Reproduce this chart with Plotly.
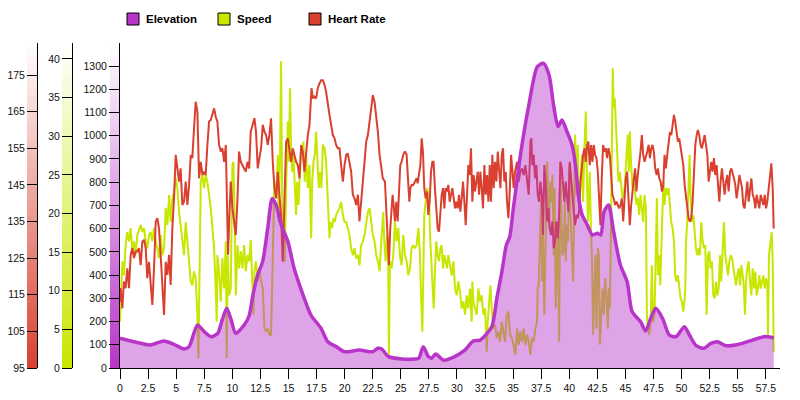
import plotly.graph_objects as go

# ---------------- data ----------------
elev_km = [0.0, 1.25, 2.7, 3.9, 4.8, 5.7, 6.15, 6.9, 7.5, 8.1, 8.7, 9.1, 9.5, 9.9, 10.3,
           11.05, 11.5, 11.8, 12.25, 12.7, 13.15, 13.55, 13.9, 14.35, 14.95, 15.5, 16.3,
           17.0, 17.9, 18.5, 19.25, 20.0, 21.3, 22.5, 22.95, 23.3, 23.9, 25.1, 26.25,
           26.6, 27.0, 27.45, 27.75, 28.1, 28.8, 29.8, 30.7, 31.45, 32.05, 33.1, 33.55,
           34.0, 34.4, 34.7, 35.0, 35.3, 35.65, 36.4, 37.15, 37.7, 38.2, 38.6, 39.0,
           39.35, 39.8, 40.25, 40.55, 40.85, 41.15, 41.6, 42.05, 42.5, 42.8, 43.1, 43.5,
           43.95, 44.55, 45.15, 45.6, 46.35, 46.8, 47.25, 47.7, 48.3, 48.9, 49.5, 50.25,
           50.7, 51.3, 52.0, 52.6, 53.2, 53.95, 55.1, 56.3, 57.35, 58.2]
elev_m = [128, 113, 99, 116, 102, 82, 92, 185, 156, 135, 149, 207, 257, 207, 149,
          185, 225, 305, 400, 458, 601, 730, 702, 616, 544, 429, 314,
          228, 171, 113, 92, 70, 77, 70, 85, 82, 49, 39, 39,
          42, 92, 49, 42, 60, 34, 49, 77, 116, 120, 178, 300,
          415, 530, 565, 680, 790, 917, 1132, 1297, 1312, 1261, 1132, 1039,
          1068, 1017, 960, 874, 730, 659, 616, 573, 580, 573, 673, 702,
          587, 443, 372, 242, 199, 159, 214, 257, 214, 142, 135, 178,
          142, 96, 85, 106, 113, 96, 102, 120, 135, 130]

speed_km = [0.0, 0.21, 0.35, 0.50, 0.65, 0.80, 0.95, 1.10, 1.25, 1.39, 1.54, 1.84, 1.99, 2.14,
            2.29, 2.43, 2.58, 2.73, 2.88, 3.03, 3.18, 3.33, 3.47, 3.62, 3.77, 3.92, 4.07,
            4.22, 4.37, 4.51, 4.66, 4.81, 4.96, 5.11, 5.26, 5.40, 5.55, 5.70, 5.85, 6.00,
            6.15, 6.30, 6.44, 6.59, 6.74, 6.89, 6.98, 7.07, 7.19, 7.34, 7.48, 7.63, 7.78,
            7.93, 8.08, 8.23, 8.38, 8.52, 8.61, 8.67, 8.82, 8.97, 9.12, 9.27, 9.42, 9.50,
            9.59, 9.71, 9.86, 10.01, 10.10, 10.22, 10.31, 10.46, 10.60, 10.75, 10.90, 11.05,
            11.20, 11.35, 11.50, 11.64,
            11.76, 11.88, 11.97, 12.11, 12.26, 12.41, 12.56, 12.71, 12.86, 13.01, 13.15,
            13.30, 13.45, 13.54, 13.66, 13.75, 13.90, 14.05, 14.13, 14.25, 14.34, 14.43,
            14.49, 14.58, 14.67, 14.79, 14.94, 15.03, 15.14, 15.23, 15.32, 15.44, 15.56,
            15.68, 15.77, 15.89, 15.98, 16.13, 16.21, 16.33, 16.45, 16.57, 16.72, 16.87,
            17.02, 17.11, 17.23, 17.34, 17.46, 17.58, 17.70, 17.82, 17.94, 18.06, 18.21,
            18.35, 18.50, 18.65, 18.74, 18.89, 19.01, 19.13, 19.24, 19.39, 19.54, 19.69,
            19.84, 19.99, 20.14, 20.28, 20.43, 20.58, 20.73, 20.88, 21.03, 21.18, 21.32,
            21.47, 21.62, 21.77, 21.92, 22.07, 22.22, 22.36, 22.51, 22.66, 22.81, 22.96,
            23.11, 23.26,
            23.44, 23.53, 23.65, 23.77, 23.88, 23.94, 24.03, 24.18, 24.33, 24.48, 24.63,
            24.78, 24.92, 25.07, 25.22, 25.37, 25.52, 25.67, 25.82, 25.96, 26.11, 26.26,
            26.41, 26.56, 26.71, 26.80, 26.92, 27.00, 27.09, 27.21, 27.33, 27.45, 27.54,
            27.63, 27.75, 27.84, 27.93, 28.04, 28.16, 28.28, 28.40, 28.52, 28.64, 28.76,
            28.88, 28.99, 29.11, 29.23, 29.38, 29.53, 29.68, 29.83, 29.97, 30.12, 30.27,
            30.42, 30.57, 30.72, 30.87, 31.01, 31.16, 31.31, 31.37, 31.46, 31.61, 31.76,
            31.91, 32.05, 32.20, 32.35, 32.50, 32.65, 32.74, 32.86, 32.98, 33.09, 33.24,
            33.39, 33.54, 33.69, 33.84, 33.99, 34.13, 34.28, 34.43, 34.58, 34.73, 34.88,
            35.03,
            35.20, 35.35, 35.50, 35.64, 35.79, 35.94, 36.09, 36.24, 36.39, 36.54, 36.68,
            36.83, 36.98, 37.13, 37.19, 37.28, 37.37, 37.49, 37.58, 37.66, 37.78, 37.87,
            37.96, 38.02, 38.11, 38.20, 38.32, 38.41, 38.50, 38.62, 38.70, 38.79, 38.91,
            39.00, 39.09, 39.21, 39.30, 39.39, 39.51, 39.60, 39.68, 39.80, 39.89, 39.98,
            40.10, 40.22, 40.34, 40.40, 40.52, 40.64, 40.75, 40.87, 40.99, 41.11, 41.23,
            41.35, 41.47, 41.53, 41.65, 41.73, 41.82, 41.94, 42.03, 42.12, 42.21, 42.33,
            42.42, 42.54, 42.63, 42.72, 42.83, 42.95, 43.07, 43.19, 43.31, 43.43, 43.52,
            43.61, 43.70, 43.79, 43.87, 43.96, 44.05, 44.14, 44.26, 44.38, 44.50, 44.62,
            44.74, 44.85, 44.97, 45.09, 45.21, 45.30, 45.39, 45.51, 45.63, 45.75, 45.86,
            45.98, 46.10, 46.22, 46.34, 46.46, 46.58, 46.70, 46.82,
            46.91, 47.00, 47.12, 47.24, 47.35, 47.47, 47.59, 47.71, 47.80, 47.89, 48.01,
            48.10, 48.19, 48.31, 48.39, 48.48, 48.60, 48.72, 48.84, 48.96, 49.08, 49.20,
            49.32, 49.43, 49.55, 49.67, 49.79, 49.91, 50.03, 50.15, 50.27, 50.33, 50.39,
            50.50, 50.62, 50.71, 50.80, 50.92, 51.04, 51.16, 51.28, 51.40, 51.51, 51.63,
            51.75, 51.87, 51.99, 52.11, 52.23, 52.35, 52.46, 52.58, 52.70, 52.82, 52.94,
            53.06, 53.18, 53.30, 53.42, 53.53, 53.65, 53.77, 53.89, 54.01, 54.13, 54.25,
            54.37, 54.49, 54.60, 54.72, 54.84, 54.96, 55.08, 55.20, 55.32, 55.44, 55.55,
            55.64, 55.73, 55.85, 55.97, 56.09, 56.21, 56.33, 56.45, 56.57, 56.68, 56.80,
            56.92, 57.04, 57.16, 57.28, 57.40, 57.52, 57.63, 57.69, 57.78, 57.90, 58.02,
            58.11, 58.20]
speed_kmh = [6.0, 13.8, 12.0, 15.9, 17.6, 16.4, 18.1, 15.1, 16.4, 14.6, 17.2, 18.5, 17.6, 18.1,
             16.4, 15.5, 17.2, 17.6, 16.4, 18.1, 16.4, 15.5, 14.2, 17.2, 14.6, 15.5, 20.7,
             18.5, 22.4, 18.9, 22.0, 22.8, 24.6, 23.3, 20.2, 18.1, 15.9, 14.6, 18.9, 16.4,
             13.3, 11.2, 10.7, 12.5, 11.6, 6.9, 1.25, 13.8, 24.1, 25.0, 23.3, 25.0, 24.1,
             22.4, 20.7, 18.1, 15.5, 10.3, 6.0, 14.6, 12.5, 8.6, 14.2, 10.3, 16.4, 1.25,
             14.6, 9.4, 10.3, 26.3, 26.7, 18.1, 9.4, 15.9, 12.9, 15.1, 12.9, 15.9,
             12.5, 14.6, 13.8, 16.6,
             10.3, 6.9, 12.5, 13.8, 11.2, 12.9, 11.2, 10.3, 5.1, 4.7, 5.1,
             4.3, 4.3, 10.3, 22.4, 24.1, 22.0, 27.6, 18.9, 27.6, 39.7, 27.6,
             13.8, 18.9, 13.8, 23.3, 31.9, 26.7, 36.2, 28.4, 25.4, 27.6, 22.4,
             19.8, 24.1, 21.1, 24.1, 28.4, 27.6, 29.3, 24.1, 27.6, 23.3, 26.3,
             16.8, 24.1, 26.7, 27.6, 30.6, 26.3, 23.3, 25.4, 23.3, 28.9, 28.4,
             26.7, 22.4, 16.8, 18.9, 18.1, 19.4, 18.9, 19.8, 20.2, 20.7, 21.5,
             19.8, 18.9, 18.9, 18.1, 17.2, 15.5, 14.6, 15.5, 14.2, 14.6, 13.3,
             15.9, 16.4, 17.2, 18.9, 20.2, 20.7, 18.9, 17.2, 16.4, 14.6, 13.8,
             12.5, 16.4,
             20.2, 16.4, 13.8, 17.2, 13.8, 1.7, 13.8, 12.9, 14.6, 18.9, 16.4,
             18.1, 14.6, 13.3, 17.2, 14.6, 13.8, 12.0, 12.9, 15.5, 15.9, 15.5,
             15.9, 18.1, 14.6, 9.4, 4.7, 12.0, 19.8, 21.5, 23.3, 22.4, 20.7,
             16.4, 12.5, 8.6, 7.7, 12.5, 16.4, 14.6, 13.8, 15.5, 15.9, 12.9,
             14.6, 13.8, 12.9, 14.6, 13.3, 12.0, 13.8, 10.3, 9.4, 11.2, 9.9,
             7.7, 8.6, 6.9, 9.4, 7.7, 10.3, 6.0, 11.2, 8.6, 7.7, 6.9,
             10.3, 8.6, 9.4, 6.9, 7.7, 2.1, 6.0, 9.0, 10.7, 7.7, 5.1,
             5.6, 3.9, 4.7, 3.4, 6.0, 4.7, 3.4, 6.9, 7.3, 4.3, 3.9,
             3.0,
             1.7, 5.1, 3.0, 4.7, 3.4, 5.1, 3.0, 4.3, 3.4, 1.7, 3.9,
             3.4, 5.1, 6.0, 10.3, 10.7, 15.5, 22.0, 11.2, 17.2, 6.9, 16.4,
             21.1, 26.7, 23.3, 18.1, 24.1, 21.5, 25.0, 14.6, 23.3, 7.7, 14.6,
             18.9, 3.4, 26.7, 18.9, 14.6, 15.5, 21.5, 13.8, 18.5, 16.4, 26.3,
             20.2, 14.6, 11.2, 17.6, 30.2, 22.4, 28.9, 20.7, 23.3, 27.6, 21.5,
             28.4, 33.2, 27.6, 18.9, 21.1, 25.4, 17.2, 13.8, 4.3, 10.3, 14.6,
             5.1, 15.5, 14.6, 3.0, 6.0, 10.3, 6.9, 11.6, 9.4, 5.1, 10.3,
             7.7, 16.4, 25.0, 38.8, 33.6, 34.9, 31.9, 26.7, 24.1, 25.4, 23.3,
             22.0, 22.4, 24.1, 27.6, 30.2, 25.4, 30.6, 26.3, 23.3, 24.1, 22.4,
             21.1, 22.0, 19.8, 22.4, 20.2, 18.9, 22.4, 20.7,
             6.9, 5.1, 4.3, 6.0, 13.3, 6.0, 6.9, 14.6, 22.0, 12.0, 14.6,
             10.7, 16.4, 21.1, 24.1, 21.1, 23.3, 22.4, 23.3, 20.7, 18.9, 18.1,
             16.4, 12.0, 11.2, 12.0, 10.3, 9.0, 8.6, 7.3, 9.0, 10.3, 16.4,
             18.9, 23.3, 27.6, 22.4, 18.9, 19.8, 17.2, 15.5, 14.6, 15.5, 14.6,
             18.9, 16.4, 15.5, 15.9, 6.9, 14.6, 15.1, 12.9, 13.8, 9.4, 9.0,
             11.2, 9.4, 10.3, 14.6, 11.2, 16.4, 18.9, 14.6, 12.9, 12.0, 13.8,
             14.6, 14.2, 12.9, 12.0, 10.7, 12.0, 12.9, 10.7, 13.3, 12.0, 10.3,
             6.9, 11.2, 12.9, 13.8, 11.2, 9.4, 12.9, 10.3, 12.5, 9.4, 10.3,
             12.0, 10.3, 11.2, 12.0, 10.3, 11.6, 10.7, 4.3, 14.6, 15.9, 17.6,
             13.8, 2.1]

hr_km = [0.00, 0.06, 0.21, 0.35, 0.50, 0.65, 0.80, 0.95, 1.10, 1.25, 1.39, 1.54, 1.69, 1.84,
         1.99, 2.14, 2.29, 2.43, 2.58, 2.73, 2.88, 3.03, 3.18, 3.33, 3.47, 3.62, 3.77,
         3.92, 4.07, 4.22, 4.37, 4.51, 4.66, 4.81, 4.96, 5.11, 5.26, 5.40, 5.55, 5.70,
         5.85, 6.00, 6.15, 6.30, 6.44, 6.59, 6.74, 6.89, 7.04, 7.19, 7.34, 7.48, 7.63,
         7.78, 7.93, 8.08, 8.23, 8.38, 8.52, 8.67, 8.82, 8.97, 9.12, 9.27, 9.42, 9.50,
         9.62, 9.74, 9.86, 10.01, 10.16, 10.31, 10.46, 10.60, 10.75, 10.90, 11.05, 11.20,
         11.35, 11.50, 11.64, 11.79,
         11.97, 12.11, 12.26, 12.41, 12.56, 12.71, 12.86, 13.01, 13.15, 13.30, 13.45,
         13.60, 13.75, 13.90, 14.05, 14.19, 14.34, 14.49, 14.58, 14.67, 14.79, 14.94,
         15.09, 15.23, 15.38, 15.53, 15.68, 15.83, 15.98, 16.13, 16.27, 16.42, 16.57,
         16.72, 16.87, 16.96, 17.05, 17.17, 17.31, 17.46, 17.61, 17.76, 17.91, 18.06,
         18.21, 18.35, 18.50, 18.65, 18.80, 18.95, 19.10, 19.24, 19.39, 19.54, 19.69,
         19.84, 19.99, 20.14, 20.28, 20.43, 20.58, 20.73, 20.88, 21.03, 21.18, 21.32,
         21.47, 21.62, 21.77, 21.92, 22.07, 22.22, 22.36, 22.51, 22.66, 22.81, 22.96,
         23.11, 23.26, 23.40,
         23.59, 23.65, 23.74, 23.82, 23.94, 24.06, 24.18, 24.27, 24.36, 24.48, 24.60,
         24.72, 24.83, 24.95, 25.07, 25.22, 25.37, 25.52, 25.67, 25.76, 25.85, 25.96,
         26.11, 26.26, 26.41, 26.50, 26.62, 26.74, 26.86, 26.97, 27.09, 27.21, 27.33,
         27.45, 27.57, 27.69, 27.81, 27.92, 28.04, 28.16, 28.28, 28.40, 28.52, 28.64,
         28.76, 28.88, 28.99, 29.11, 29.23, 29.35, 29.47, 29.59, 29.71, 29.83, 29.94,
         30.06, 30.18, 30.30, 30.42, 30.54, 30.66, 30.78, 30.90, 31.01, 31.13, 31.25,
         31.37, 31.49, 31.61, 31.73, 31.85, 31.97, 32.08, 32.20, 32.32, 32.44, 32.56,
         32.68, 32.80, 32.92, 33.03, 33.15, 33.27, 33.39, 33.51, 33.63, 33.75, 33.87,
         33.99, 34.10, 34.22, 34.34, 34.46, 34.58, 34.70, 34.82, 34.94, 35.05, 35.17,
         35.35, 35.50, 35.64, 35.79, 35.94, 36.09, 36.24, 36.39, 36.54, 36.62, 36.71,
         36.83, 36.95, 37.07, 37.19, 37.31, 37.43, 37.55, 37.66, 37.78, 37.90, 38.02,
         38.14, 38.26, 38.38, 38.50, 38.62, 38.73, 38.85, 38.97, 39.09, 39.21, 39.33,
         39.45, 39.57, 39.68, 39.80, 39.92, 40.04, 40.16, 40.28, 40.40, 40.52, 40.64,
         40.75, 40.87, 40.99, 41.11, 41.23, 41.35, 41.47, 41.59, 41.70, 41.82, 41.94,
         42.06, 42.18, 42.30, 42.42, 42.54, 42.66, 42.77, 42.89, 43.01, 43.13, 43.25,
         43.37, 43.49, 43.61, 43.73, 43.84, 43.96, 44.08, 44.20, 44.32, 44.44, 44.56,
         44.68, 44.80, 44.91, 45.03, 45.15, 45.27, 45.39, 45.51, 45.63, 45.75, 45.86,
         45.98, 46.10, 46.22, 46.34, 46.46, 46.58, 46.70, 46.82,
         46.94, 47.06, 47.18, 47.30, 47.41, 47.53, 47.65, 47.77, 47.89, 48.01, 48.13,
         48.25, 48.37, 48.48, 48.60, 48.72, 48.84, 48.96, 49.08, 49.20, 49.32, 49.43,
         49.55, 49.67, 49.79, 49.91, 50.03, 50.15, 50.27, 50.39, 50.50, 50.62, 50.74,
         50.86, 50.98, 51.10, 51.22, 51.34, 51.45, 51.57, 51.69, 51.81, 51.93, 52.05,
         52.17, 52.29, 52.41, 52.52, 52.64, 52.76, 52.88, 53.00, 53.12, 53.24, 53.36,
         53.47, 53.59, 53.71, 53.83, 53.95, 54.07, 54.19, 54.31, 54.43, 54.54, 54.66,
         54.78, 54.90, 55.02, 55.14, 55.26, 55.38, 55.49, 55.61, 55.73, 55.85, 55.97,
         56.09, 56.21, 56.33, 56.45, 56.57, 56.68, 56.80, 56.92, 57.04, 57.16, 57.28,
         57.40, 57.52, 57.63, 57.75, 57.87, 57.99, 58.11, 58.20]
hr_bpm = [113.1, 116.8, 111.3, 118.6, 116.8, 122.2, 116.8, 125.9, 127.7, 125.0, 126.8, 126.8,
          127.7, 123.1, 129.5, 130.0, 127.7, 119.5, 124.0, 118.6, 112.2, 122.2, 135.0, 135.9,
          133.1, 125.9, 118.6, 109.5, 124.0, 120.4, 125.9, 117.7, 133.1, 141.3, 153.2, 148.6,
          145.9, 149.5, 139.5, 140.4, 145.9, 139.5, 145.0, 153.2, 152.3, 160.4, 167.7, 165.0,
          146.8, 151.3, 147.7, 148.6, 147.7, 155.9, 162.3, 162.7, 164.1, 165.9, 163.6, 162.3,
          155.9, 154.1, 155.0, 151.3, 155.9, 144.1, 125.9, 136.8, 145.9, 138.6, 135.0, 131.3,
          141.3, 154.1, 151.3, 150.4, 149.5, 148.6, 151.3, 149.5, 159.5, 160.9,
          163.2, 159.5, 149.5, 152.3, 155.0, 161.4, 159.5, 158.6, 155.9, 158.6, 163.2,
          151.3, 144.1, 141.3, 148.6, 142.3, 136.8, 124.0, 135.0, 144.1, 156.8, 157.7,
          154.1, 151.3, 155.0, 153.2, 151.3, 150.4, 146.8, 155.9, 154.1, 148.6, 155.0,
          158.6, 161.4, 167.7, 171.4, 168.6, 169.1, 168.6, 171.4, 172.7, 173.6, 173.6,
          172.3, 170.4, 166.8, 164.1, 161.4, 158.6, 157.7, 155.9, 155.0, 155.0, 150.4,
          145.9, 150.4, 153.2, 153.6, 150.4, 148.6, 142.3, 141.3, 139.5, 142.3, 135.0,
          141.3, 147.7, 151.3, 156.8, 158.6, 162.3, 165.9, 169.5, 167.7, 164.1, 159.5,
          153.2, 149.5, 146.8,
          145.9, 142.3, 137.7, 131.3, 123.1, 133.1, 138.6, 142.3, 139.5, 135.0, 140.4,
          135.0, 142.3, 150.4, 151.3, 153.2, 154.1, 153.2, 145.0, 140.4, 144.1, 145.0,
          145.0, 145.9, 146.8, 145.4, 148.6, 150.4, 157.7, 154.1, 144.1, 141.3, 143.2,
          136.8, 140.4, 148.6, 151.3, 151.3, 144.1, 136.8, 133.1, 132.2, 137.7, 142.3,
          144.1, 138.6, 144.1, 143.2, 145.0, 140.4, 142.3, 144.1, 141.3, 138.6, 140.4,
          138.6, 142.3, 137.7, 141.3, 145.9, 140.4, 134.0, 142.3, 150.4, 147.7, 155.0,
          140.4, 147.7, 143.2, 145.9, 148.6, 142.3, 148.6, 144.1, 138.6, 150.4, 142.3,
          147.7, 140.4, 150.4, 140.4, 153.2, 144.1, 151.3, 145.9, 154.1, 148.6, 144.1,
          153.2, 155.0, 145.9, 148.6, 140.4, 135.9, 143.2, 153.2, 148.6, 144.1, 148.6,
          151.3, 145.9, 148.6, 149.5, 147.7, 150.4, 146.8, 142.3, 156.8, 157.7, 150.4,
          153.2, 146.8, 150.4, 142.3, 140.4, 145.9, 142.3, 131.3, 150.4, 145.0, 135.0,
          138.6, 133.1, 131.3, 135.0, 127.7, 129.5, 135.0, 130.4, 136.8, 151.3, 149.5,
          144.1, 140.4, 145.9, 142.3, 137.7, 151.3, 145.9, 140.4, 137.7, 134.0, 136.8,
          135.9, 137.7, 145.9, 150.4, 153.2, 155.0, 151.3, 155.9, 156.8, 150.4, 155.9,
          151.3, 155.9, 153.2, 152.3, 148.6, 139.5, 134.0, 146.8, 155.9, 154.1, 155.0,
          152.3, 155.0, 153.2, 145.9, 142.3, 141.3, 139.5, 140.4, 139.5, 138.6, 139.5,
          141.3, 135.0, 142.3, 146.8, 148.6, 142.3, 134.0, 139.5, 144.1, 146.8, 149.5,
          143.2, 147.7, 150.4, 154.1, 158.6, 153.2, 151.3, 153.2,
          154.1, 155.9, 152.3, 155.0, 155.9, 154.1, 149.5, 147.7, 149.5, 146.8, 145.9,
          143.2, 145.0, 153.2, 149.5, 153.2, 156.8, 159.5, 158.6, 161.4, 164.1, 162.3,
          158.6, 156.8, 157.7, 155.0, 153.2, 150.4, 145.0, 141.3, 137.7, 135.9, 135.0,
          135.9, 140.4, 149.5, 155.9, 158.6, 160.0, 158.6, 155.9, 155.0, 156.8, 158.6,
          155.9, 153.2, 145.9, 149.5, 151.3, 148.6, 152.3, 147.7, 150.4, 145.0, 140.4,
          145.9, 149.5, 145.9, 142.3, 145.9, 147.7, 143.2, 148.6, 149.5, 147.7, 146.8,
          145.0, 141.3, 144.1, 147.7, 145.9, 144.1, 139.5, 138.6, 142.3, 145.9, 140.4,
          144.1, 146.8, 142.3, 141.3, 138.6, 142.3, 140.4, 138.6, 142.3, 140.4, 139.5,
          142.3, 138.6, 140.4, 144.1, 146.8, 150.9, 144.1, 133.1]

x_ticks = [0, 2.5, 5, 7.5, 10, 12.5, 15, 17.5, 20, 22.5, 25, 27.5, 30, 32.5, 35, 37.5,
           40, 42.5, 45, 47.5, 50, 52.5, 55, 57.5]
x_tick_labels = ["0", "2.5", "5", "7.5", "10", "12.5", "15", "17.5", "20", "22.5", "25",
                 "27.5", "30", "32.5", "35", "37.5", "40", "42.5", "45", "47.5", "50",
                 "52.5", "55", "57.5"]
elev_ticks = [0, 100, 200, 300, 400, 500, 600, 700, 800, 900, 1000, 1100, 1200, 1300]
speed_ticks = [0, 5, 10, 15, 20, 25, 30, 35, 40]
hr_ticks = [95, 105, 115, 125, 135, 145, 155, 165, 175]
series_names = ["Elevation", "Speed", "Heart Rate"]

# ---------------- styling / layout ----------------
ELEV = (185, 52, 201)
SPEED = (200, 230, 0)
HR = (217, 64, 48)
FONT = "Liberation Sans, Arial, Helvetica, sans-serif"

# the page body has an 8px default margin, so the figure sits 8px in from the window edge
PAGE_OFF = 8
W, H = 800 - PAGE_OFF, 400 - PAGE_OFF
PLOT_LEFT, PLOT_RIGHT, PLOT_TOP, PLOT_BOTTOM = 120, 780, 43, 368   # window pixels
ML = 0
MT = PLOT_TOP - PAGE_OFF
MB = H - (PLOT_BOTTOM - PAGE_OFF)
MR = W - (PLOT_RIGHT - PAGE_OFF)
PW, PH = W - ML - MR, H - MT - MB


def rgb(c, a=None):
    if a is None:
        return "rgb(%d,%d,%d)" % c
    return "rgba(%d,%d,%d,%.2f)" % (c[0], c[1], c[2], a)


def px_x(px):
    return (px - PAGE_OFF - ML) / PW


def px_y(py):
    return 1 - (py - PAGE_OFF - MT) / PH


fig = go.Figure()
fig.add_trace(go.Scatter(x=speed_km, y=speed_kmh, yaxis="y", mode="lines",
                         name=series_names[1], line=dict(color=rgb(SPEED), width=2),
                         showlegend=False))
fig.add_trace(go.Scatter(x=hr_km, y=hr_bpm, yaxis="y2", mode="lines",
                         name=series_names[2], line=dict(color=rgb(HR), width=2),
                         showlegend=False))
fig.add_trace(go.Scatter(x=elev_km, y=elev_m, yaxis="y3", mode="lines",
                         name=series_names[0], fill="tozeroy",
                         fillcolor=rgb(ELEV, 0.45),
                         line=dict(color=rgb(ELEV), width=3.5, shape="spline", smoothing=0.7),
                         showlegend=False))

tickfont = dict(family=FONT, size=10.5, color="#111")
axis_common = dict(showline=True, linecolor="black", linewidth=1, ticks="outside",
                   ticklen=10, tickcolor="black", showgrid=False, zeroline=False,
                   tickfont=tickfont, fixedrange=True, automargin=False)

HR_LINE_PX, SPEED_LINE_PX, ELEV_LINE_PX = 37, 72, 120

fig.update_layout(
    width=W, height=H, margin=dict(l=ML, r=MR, t=MT, b=MB, autoexpand=False),
    paper_bgcolor="white", plot_bgcolor="rgba(0,0,0,0)",
    showlegend=False, hovermode=False,
    xaxis=dict(domain=[px_x(ELEV_LINE_PX), 1.0], range=[0, 58.76],
               tickvals=x_ticks, ticktext=x_tick_labels, **axis_common),
    yaxis=dict(range=[0, 42.07], anchor="free", position=px_x(SPEED_LINE_PX), side="left",
               tickvals=speed_ticks, **axis_common),
    yaxis2=dict(range=[95, 183.74], anchor="free", position=px_x(HR_LINE_PX), side="left",
                overlaying="y", tickvals=hr_ticks, **axis_common),
    yaxis3=dict(range=[0, 1399], anchor="x", side="left", overlaying="y",
                tickvals=elev_ticks, **axis_common),
)

# gradient bars behind each y axis (colour at the bottom fading to white at the top)
shapes = []
N = 60
for line_px, col in [(HR_LINE_PX, HR), (SPEED_LINE_PX, SPEED), (ELEV_LINE_PX, ELEV)]:
    for i in range(N):
        t = (i + 0.5) / N
        c = tuple(int(round(col[k] + (255 - col[k]) * t)) for k in range(3))
        shapes.append(dict(type="rect", xref="paper", yref="paper", layer="below",
                           x0=px_x(line_px - 10), x1=px_x(line_px),
                           y0=i / N, y1=min(1.0, (i + 1) / N + 0.003),
                           line=dict(width=0), fillcolor=rgb(c)))

# legend (manual) - coloured squares with black border and bold labels
annotations = []
legend_items = [(series_names[0], ELEV, 127), (series_names[1], SPEED, 218),
                (series_names[2], HR, 309)]
for name, col, x_px in legend_items:
    shapes.append(dict(type="rect", xref="paper", yref="paper", layer="above",
                       x0=px_x(x_px), x1=px_x(x_px + 12), y0=px_y(25), y1=px_y(13),
                       line=dict(color="black", width=1), fillcolor=rgb(col)))
    annotations.append(dict(xref="paper", yref="paper", x=px_x(x_px + 17), y=px_y(19.5),
                            xanchor="left", yanchor="middle", showarrow=False,
                            text="<b>%s</b>" % name,
                            font=dict(family=FONT, size=11.5, color="black")))

fig.update_layout(shapes=shapes, annotations=annotations)

fig.write_html("out.html")
